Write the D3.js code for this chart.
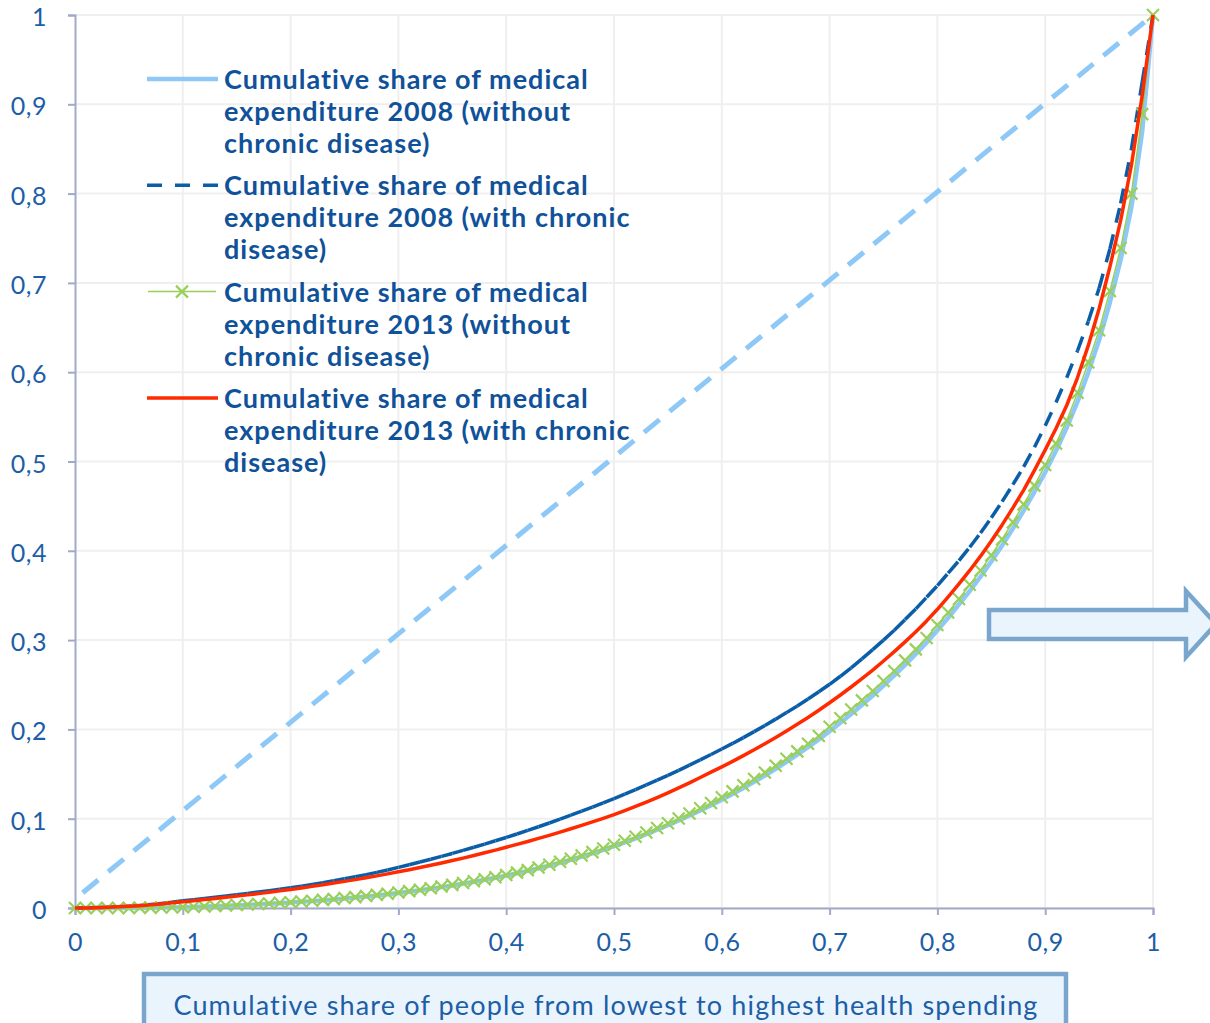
<!DOCTYPE html>
<html>
<head>
<meta charset="utf-8">
<script src="https://cdn.jsdelivr.net/npm/d3@7"></script>
<style>
	html, body { margin: 0; padding: 0; background: #ffffff; }
	svg { display: block; }
</style>
</head>
<body>
<svg id="chart" width="1210" height="1023"></svg>
<script>
// share of people (x categories, every 0.01)
const shareOfPeople = d3.range(0, 101).map(i => i / 100)

const lorenz2008Without = [
	0, 0, 0, 0, 0, 0, 0.0001, 0.0003, 0.0005, 0.0007,
	0.0009, 0.0012, 0.0016, 0.002, 0.0025, 0.003, 0.0035, 0.0041, 0.0047, 0.0054,
	0.0061, 0.0069, 0.0077, 0.0086, 0.0096, 0.0106, 0.0117, 0.0129, 0.0141, 0.0154,
	0.0168, 0.0183, 0.0199, 0.0216, 0.0234, 0.0253, 0.0273, 0.0294, 0.0316, 0.0339,
	0.0363, 0.0389, 0.0416, 0.0445, 0.0475, 0.0507, 0.054, 0.0575, 0.0612, 0.0651,
	0.0692, 0.0735, 0.078, 0.0827, 0.0876, 0.0927, 0.098, 0.1035, 0.1092, 0.1151,
	0.1212, 0.1276, 0.1343, 0.1412, 0.1484, 0.1559, 0.1637, 0.1718, 0.1802, 0.1889,
	0.198, 0.2074, 0.2172, 0.2274, 0.238, 0.249, 0.2604, 0.2722, 0.2845, 0.2973,
	0.311, 0.325, 0.34, 0.355, 0.371, 0.388, 0.406, 0.425, 0.445, 0.466,
	0.488, 0.512, 0.538, 0.567, 0.6, 0.636, 0.678, 0.726, 0.785, 0.87, 1
]

const lorenz2008With = [
	0, 0.0002, 0.0005, 0.0009, 0.0014, 0.002, 0.0028, 0.0038, 0.005, 0.0064,
	0.008, 0.0093, 0.0106, 0.012, 0.0134, 0.0148, 0.0163, 0.0178, 0.0194, 0.021,
	0.0227, 0.0245, 0.0264, 0.0284, 0.0305, 0.0327, 0.035, 0.0374, 0.0399, 0.0425,
	0.0455, 0.0485, 0.0515, 0.0546, 0.0578, 0.0611, 0.0645, 0.068, 0.0716, 0.0753,
	0.079, 0.0829, 0.0869, 0.091, 0.0952, 0.0995, 0.1039, 0.1084, 0.113, 0.1177,
	0.1225, 0.1275, 0.1326, 0.1378, 0.1431, 0.1486, 0.1542, 0.16, 0.1659, 0.1719,
	0.178, 0.1843, 0.1908, 0.1975, 0.2044, 0.2115, 0.2188, 0.2263, 0.2341, 0.2421,
	0.2505, 0.2595, 0.269, 0.279, 0.2893, 0.3, 0.311, 0.323, 0.335, 0.348,
	0.361, 0.375, 0.389, 0.404, 0.42, 0.437, 0.455, 0.474, 0.494, 0.516,
	0.54, 0.566, 0.594, 0.624, 0.657, 0.694, 0.738, 0.789, 0.85, 0.925, 1
]

const lorenz2013Without = [
	0, 0, 0, 0, 0, 0, 0.0002, 0.0004, 0.0006, 0.0008,
	0.001, 0.0014, 0.0018, 0.0023, 0.0028, 0.0033, 0.0039, 0.0045, 0.0051, 0.0058,
	0.0065, 0.0073, 0.0082, 0.0091, 0.0101, 0.0111, 0.0122, 0.0134, 0.0147, 0.016,
	0.0174, 0.0189, 0.0205, 0.0222, 0.024, 0.0259, 0.0279, 0.03, 0.0322, 0.0345,
	0.037, 0.0396, 0.0424, 0.0454, 0.0485, 0.0518, 0.0552, 0.0588, 0.0626, 0.0666,
	0.0708, 0.0752, 0.0798, 0.0846, 0.0896, 0.0948, 0.1002, 0.1058, 0.1116, 0.1176,
	0.124, 0.1306, 0.1374, 0.1444, 0.1517, 0.1593, 0.1672, 0.1754, 0.1839, 0.1927,
	0.203, 0.2125, 0.2223, 0.2325, 0.2431, 0.2541, 0.2655, 0.2773, 0.2896, 0.3024,
	0.317, 0.331, 0.346, 0.362, 0.378, 0.395, 0.413, 0.432, 0.452, 0.473,
	0.496, 0.52, 0.546, 0.577, 0.611, 0.647, 0.691, 0.739, 0.8, 0.889, 1
]

const lorenz2013With = [
	0, 0.0001, 0.0004, 0.0008, 0.0013, 0.0019, 0.0026, 0.0035, 0.0046, 0.0058,
	0.007, 0.0082, 0.0094, 0.0107, 0.012, 0.0133, 0.0147, 0.0161, 0.0176, 0.0192,
	0.0208, 0.0225, 0.0242, 0.026, 0.0279, 0.0298, 0.0318, 0.0339, 0.036, 0.0382,
	0.0405, 0.0429, 0.0453, 0.0478, 0.0504, 0.0531, 0.0559, 0.0588, 0.0618, 0.0648,
	0.068, 0.0712, 0.0745, 0.0779, 0.0814, 0.085, 0.0887, 0.0925, 0.0964, 0.1004,
	0.1045, 0.109, 0.1137, 0.1186, 0.1237, 0.129, 0.1345, 0.1402, 0.1461, 0.1521,
	0.158, 0.1642, 0.1706, 0.1772, 0.184, 0.191, 0.1982, 0.2057, 0.2134, 0.2214,
	0.2298, 0.2385, 0.2475, 0.2568, 0.2665, 0.2766, 0.2871, 0.298, 0.3093, 0.3215,
	0.3345, 0.3485, 0.363, 0.378, 0.394, 0.411, 0.429, 0.448, 0.468, 0.49,
	0.513, 0.537, 0.563, 0.594, 0.63, 0.671, 0.718, 0.77, 0.832, 0.91, 1
]

// line of equality (unlabelled)
const equalityX = [0, 1]
const equalityY = [0.01, 1]

const tickValues = [0, 0.1, 0.2, 0.3, 0.4, 0.5, 0.6, 0.7, 0.8, 0.9, 1]

const legendLines = [
	['Cumulative share of medical', 'expenditure 2008 (without', 'chronic disease)'],
	['Cumulative share of medical', 'expenditure 2008 (with chronic', 'disease)'],
	['Cumulative share of medical', 'expenditure 2013 (without', 'chronic disease)'],
	['Cumulative share of medical', 'expenditure 2013 (with chronic', 'disease)']
]

const xAxisTitle = 'Cumulative share of people from lowest to highest health spending'

// ---- layout
const margin = { top: 15, left: 75 }
const plotW = 1078
const plotH = 893

const colors = {
	light: '#8ec8f6',
	dark: '#0a5ea8',
	green: '#98d05a',
	red: '#ff2a00',
	axis: '#a1a9cb',
	grid: '#efefef',
	text: '#1d5ea7',
	legendText: '#0f5299',
	boxFill: '#eaf4fd',
	boxStroke: '#7aa6cd'
}

const svg = d3.select('#chart')
const g = svg.append('g').attr('transform', `translate(${margin.left},${margin.top})`)

const x = d3.scaleLinear().domain([0, 1]).range([0, plotW])
const y = d3.scaleLinear().domain([0, 1]).range([plotH, 0])

const locale = d3.formatLocale({ decimal: ',', thousands: '.', grouping: [3], currency: ['', ''] })
const fmt = locale.format('.1~f')

// gridlines
g.append('g')
	.selectAll('line')
	.data(tickValues)
	.join('line')
	.attr('x1', 0)
	.attr('x2', plotW)
	.attr('y1', d => y(d))
	.attr('y2', d => y(d))
	.attr('stroke', colors.grid)
	.attr('stroke-width', 2)

g.append('g')
	.selectAll('line')
	.data(tickValues.slice(1))
	.join('line')
	.attr('x1', d => x(d))
	.attr('x2', d => x(d))
	.attr('y1', 0)
	.attr('y2', plotH)
	.attr('stroke', colors.grid)
	.attr('stroke-width', 2)

// axes
const yAxis = g.append('g')
	.call(d3.axisLeft(y).tickValues(tickValues).tickSize(7).tickPadding(21).tickFormat(fmt))
const xAxis = g.append('g')
	.attr('transform', `translate(0,${plotH})`)
	.call(d3.axisBottom(x).tickValues(tickValues).tickSize(7).tickPadding(18).tickFormat(fmt))

;[yAxis, xAxis].forEach(ax => {
	ax.select('.domain').attr('stroke', colors.axis).attr('stroke-width', 2)
	ax.selectAll('.tick line').attr('stroke', colors.axis).attr('stroke-width', 2)
	ax.selectAll('.tick text')
		.attr('fill', colors.text)
		.attr('font-family', 'Lato, sans-serif')
		.attr('font-size', 25)
		.attr('letter-spacing', 0.5)
})
yAxis.selectAll('.tick text').attr('dy', '0.42em')

// series
const pts = vals => shareOfPeople.map((s, i) => [s, vals[i]])
const line = d3.line().x(d => x(d[0])).y(d => y(d[1]))

const series = g.append('g').attr('fill', 'none')

// equality diagonal
series.append('path')
	.attr('d', line(equalityX.map((v, i) => [v, equalityY[i]])))
	.attr('stroke', colors.light)
	.attr('stroke-width', 5)
	.attr('stroke-dasharray', '20,13')
	.attr('stroke-dashoffset', 23)

// 2008 without chronic disease
series.append('path')
	.attr('d', line(pts(lorenz2008Without)))
	.attr('stroke', colors.light)
	.attr('stroke-width', 4.5)
	.attr('stroke-linejoin', 'round')

// 2008 with chronic disease: dash pattern restarts on every segment
const darkPts = pts(lorenz2008With)
series.append('g')
	.selectAll('line')
	.data(d3.pairs(darkPts))
	.join('line')
	.attr('x1', d => x(d[0][0]))
	.attr('y1', d => y(d[0][1]))
	.attr('x2', d => x(d[1][0]))
	.attr('y2', d => y(d[1][1]))
	.attr('stroke', colors.dark)
	.attr('stroke-width', 3.5)
	.attr('stroke-dasharray', '15,12')

// 2013 without chronic disease
const greenPts = pts(lorenz2013Without)
series.append('path')
	.attr('d', line(greenPts))
	.attr('stroke', colors.green)
	.attr('stroke-width', 1.5)

const crossPath = (cx, cy, r) =>
	`M${cx - r},${cy - r}L${cx + r},${cy + r}M${cx - r},${cy + r}L${cx + r},${cy - r}`

series.append('g')
	.selectAll('path')
	.data(greenPts)
	.join('path')
	.attr('d', d => crossPath(x(d[0]), y(d[1]), 6))
	.attr('stroke', colors.green)
	.attr('stroke-width', 2.2)

// 2013 with chronic disease
series.append('path')
	.attr('d', line(pts(lorenz2013With)))
	.attr('stroke', colors.red)
	.attr('stroke-width', 3.5)
	.attr('stroke-linejoin', 'round')

// legend
const legend = svg.append('g').attr('transform', 'translate(147,79)')
const legendGap = 106.3
const lineH = 32

legendLines.forEach((lines, i) => {
	const row = legend.append('g').attr('transform', `translate(0,${i * legendGap})`)
	if (i === 0) {
		row.append('line').attr('x1', 0).attr('x2', 71)
			.attr('stroke', colors.light).attr('stroke-width', 4.5)
	} else if (i === 1) {
		row.append('line').attr('x1', 0).attr('x2', 71)
			.attr('stroke', colors.dark).attr('stroke-width', 3.5)
			.attr('stroke-dasharray', '15,13')
	} else if (i === 2) {
		row.append('line').attr('x1', 1).attr('x2', 69)
			.attr('stroke', colors.green).attr('stroke-width', 1.5)
		row.append('path').attr('d', crossPath(35, 0, 6))
			.attr('stroke', colors.green).attr('stroke-width', 2.2)
	} else {
		row.append('line').attr('x1', 0).attr('x2', 71)
			.attr('stroke', colors.red).attr('stroke-width', 3.5)
	}
	row.append('text')
		.attr('x', 77)
		.attr('y', 10)
		.attr('font-family', 'Lato, sans-serif')
		.attr('font-weight', 'bold')
		.attr('font-size', 27)
		.attr('letter-spacing', 1)
		.attr('fill', colors.legendText)
		.selectAll('tspan')
		.data(lines)
		.join('tspan')
		.attr('x', 77)
		.attr('dy', (d, j) => (j === 0 ? 0 : lineH))
		.text(d => d)
})

// x axis title box
svg.append('rect')
	.attr('x', 144)
	.attr('y', 974)
	.attr('width', 922)
	.attr('height', 80)
	.attr('fill', colors.boxFill)
	.attr('stroke', colors.boxStroke)
	.attr('stroke-width', 4.5)

svg.append('text')
	.attr('x', 606)
	.attr('y', 1015)
	.attr('text-anchor', 'middle')
	.attr('font-family', 'Lato, sans-serif')
	.attr('font-size', 27)
	.attr('letter-spacing', 1.15)
	.attr('fill', colors.text)
	.text(xAxisTitle)

// block arrow
svg.append('path')
	.attr('d', 'M989,610L1186,610L1186,591L1216,624L1186,657L1186,639L989,639Z')
	.attr('fill', colors.boxFill)
	.attr('stroke', colors.boxStroke)
	.attr('stroke-width', 4.5)
	.attr('stroke-linejoin', 'miter')
</script>
</body>
</html>
